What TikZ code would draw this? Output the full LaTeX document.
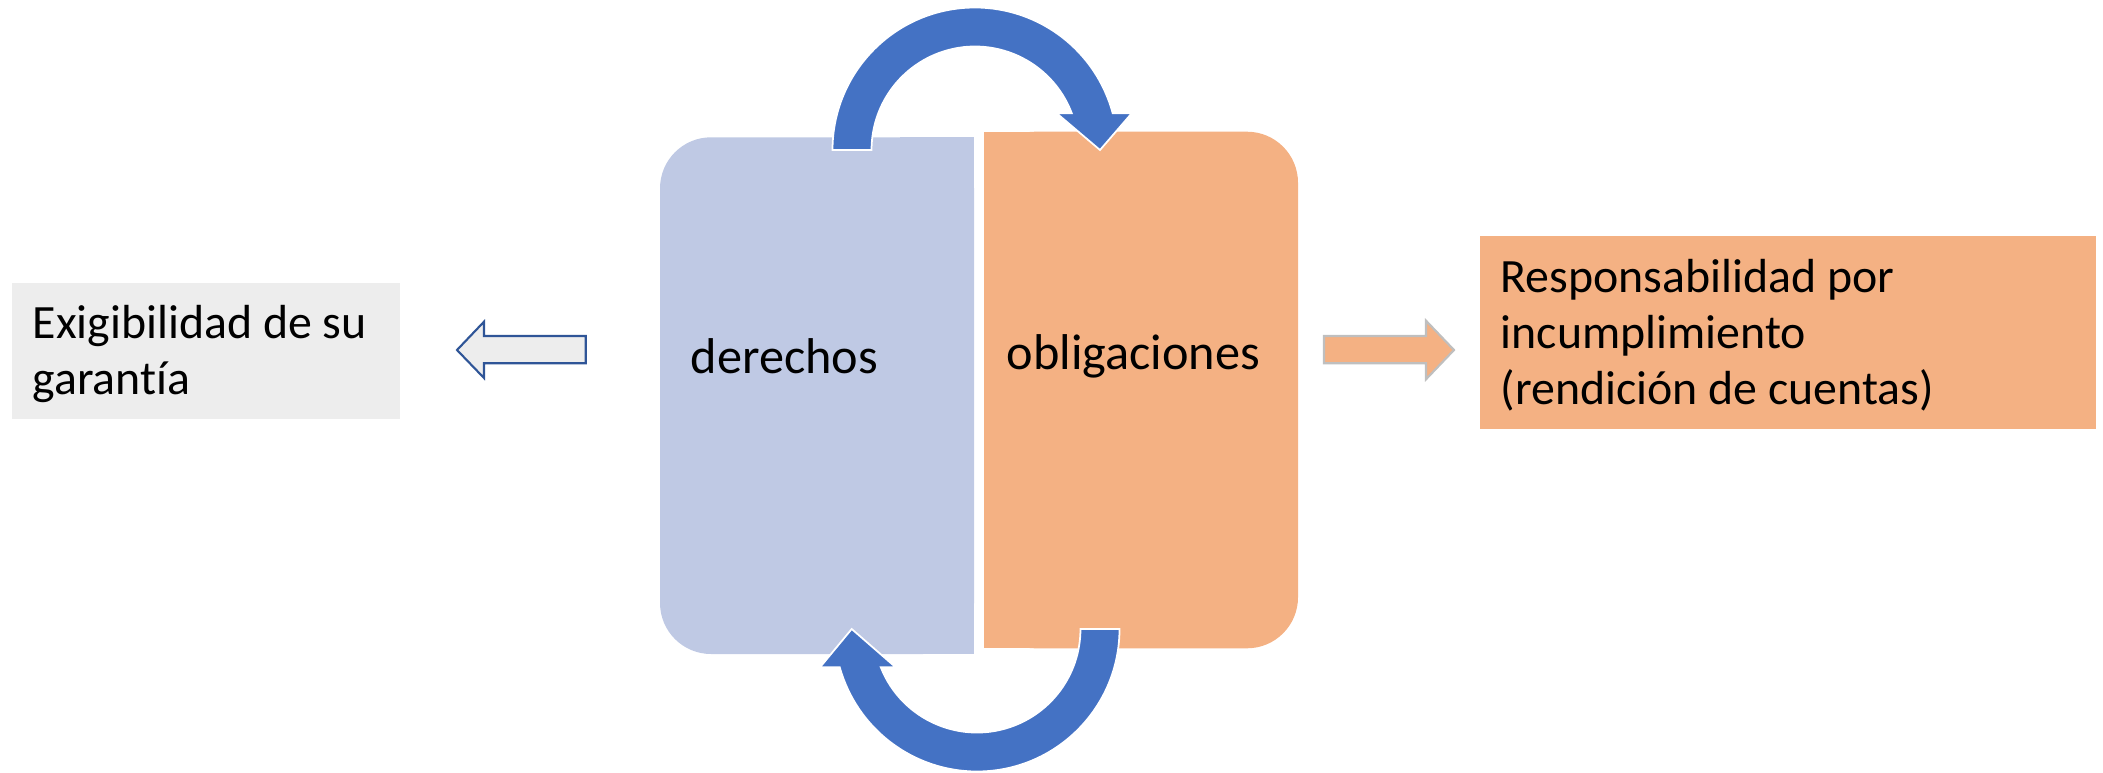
\documentclass[tikz,border=0pt]{standalone}
\usepackage{fontspec}
\setmainfont{Carlito}[Ligatures=NoCommon]
\usepackage{tikz}
\definecolor{derechosazul}{HTML}{BFC9E4}
\definecolor{oblignaranja}{HTML}{F4B183}
\definecolor{flechaazul}{HTML}{4472C4}
\definecolor{bordeazul}{HTML}{2F5597}
\definecolor{grisclaro}{HTML}{EDEDED}
\definecolor{grisborde}{HTML}{BFBFBF}

\begin{document}
\begin{tikzpicture}[x=0.01cm, y=0.01cm,
  txt/.style={inner sep=0pt, align=left, font=\fontsize{13.6}{15.9}\selectfont},
  txtgrande/.style={inner sep=0pt, font=\fontsize{14.3}{16}\selectfont},
  arcoflecha/.style={fill=flechaazul, draw=white, line width=0.5pt},
  bloqueflecha/.style={line width=0.6pt}]

\useasboundingbox (0,0) rectangle (2103,772);

% caja izquierda
\fill[grisclaro] (12,353) rectangle (400,489);
\node[txt, anchor=base west] (exigibilidad) at (32,378) {Exigibilidad de su\\garantía};

\path[bloqueflecha, draw=bordeazul, fill=grisclaro] (457,422) -- (484,450.3) -- (484,436) -- (585.7,436)
  -- (585.7,408.7) -- (484,408.7) -- (484,394) -- cycle;


% derechos / obligaciones
\fill[derechosazul, rounded corners=0.51cm] (660,118) rectangle (974,634.7);
\fill[derechosazul] (900,118) rectangle (974,634.7);
\fill[oblignaranja, rounded corners=0.51cm] (984,123.7) rectangle (1298,640.3);
\fill[oblignaranja] (984,123.7) rectangle (1060,640.3);

\node[txtgrande, anchor=base west] (derechos) at (690,399) {derechos};
\node[txtgrande, anchor=base west] (obligaciones) at (1006,403) {obligaciones};


% flechas circulares
\path[arcoflecha] (832.5,622) arc[start angle=180, end angle=14.93, radius=142.5]
  -- (1131.7,658.7) -- (1100,622) -- (1056.7,658.7) -- (1071.8,658.7)
  arc[start angle=20.77, end angle=180, radius=103.5] -- cycle;
\path[arcoflecha] (1119.5,143) arc[start angle=0, end angle=-164.4, radius=142.5]
  -- (820,104.7) -- (851.7,143) -- (895.7,104.7) -- (880.8,104.7)
  arc[start angle=-158.3, end angle=0, radius=103.5] -- cycle;


% caja derecha
\path[bloqueflecha, draw=grisborde, fill=oblignaranja] (1454,422) -- (1426,451.3) -- (1426,436) -- (1324,436)
  -- (1324,408.7) -- (1426,408.7) -- (1426,392.7) -- cycle;

\fill[oblignaranja] (1480,343) rectangle (2096,536);
\node[txt, anchor=base west] (responsabilidad) at (1500,368) {Responsabilidad por\\incumplimiento\\(rendición de cuentas)};

\end{tikzpicture}
\end{document}
